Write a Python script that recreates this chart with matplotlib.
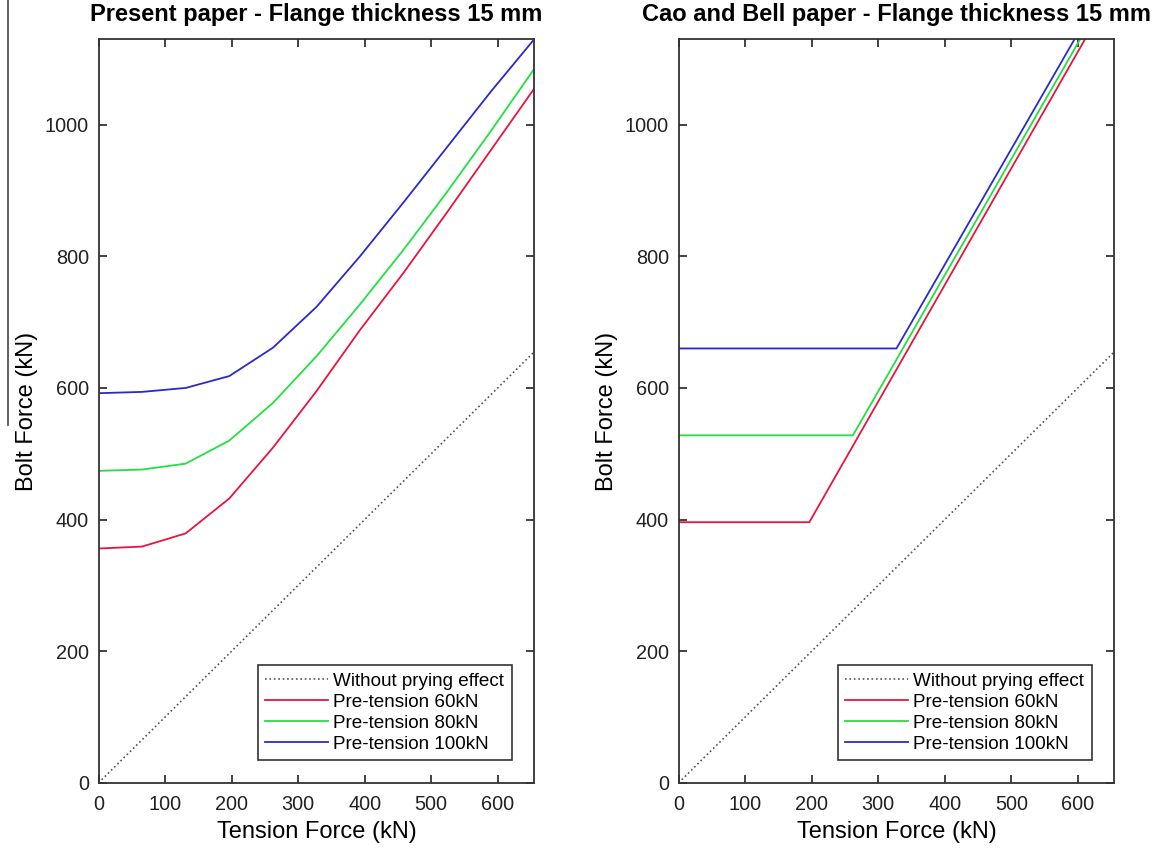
import matplotlib
matplotlib.use('Agg')
import matplotlib.pyplot as plt
from matplotlib.lines import Line2D

plt.rcParams['font.family'] = ['Liberation Sans', 'DejaVu Sans']

# Fuerza de tension (kN), misma malla para todas las curvas
tension = [0, 65.5, 131, 196.5, 262, 327.5, 393, 458.5, 524, 589.5, 655]
sin_palanca = [0, 655]

# Articulo presente
presente_60 = [356, 359, 379, 432, 509, 595, 688, 775, 867, 961, 1055]
presente_80 = [474, 476, 485, 520, 577, 648, 727, 810, 898, 990, 1085]
presente_100 = [592, 594, 600, 618, 661, 723, 800, 882, 966, 1050, 1130]

# Cao y Bell
cao_60 = [396, 396, 396, 396, 512, 628, 744, 860, 976, 1092, 1208]
cao_80 = [528, 528, 528, 528, 528, 643, 759, 874, 990, 1105, 1221]
cao_100 = [660, 660, 660, 660, 660, 660, 775, 890, 1005, 1120, 1235]

etiquetas = ['Without prying effect', 'Pre-tension 60kN',
             'Pre-tension 80kN', 'Pre-tension 100kN']
colores = ['#e8143c', '#22e040', '#2a2acc']
titulos = ['Present paper - Flange thickness 15 mm',
           'Cao and Bell paper - Flange thickness 15 mm']

fig = plt.figure(figsize=(11.59, 8.5), dpi=100)
ax1 = fig.add_axes([0.085, 0.079, 0.376, 0.875])
ax2 = fig.add_axes([0.5855, 0.079, 0.376, 0.875])

'''Dibuja una grafica con sus curvas'''
def grafica(ax, curvas, titulo):
    ax.plot(sin_palanca, sin_palanca, linestyle=':', color='#555555',
            linewidth=1.2, label=etiquetas[0])
    for i in range(len(curvas)):
        ax.plot(tension, curvas[i], color=colores[i], linewidth=1.3,
                label=etiquetas[i+1])
    ax.set_xlim(0, 655)
    ax.set_ylim(0, 1130)
    ax.set_xticks([0, 100, 200, 300, 400, 500, 600])
    ax.set_yticks([0, 200, 400, 600, 800, 1000])
    ax.tick_params(direction='in', top=True, right=True, labelsize=14.3,
                   length=6, width=1.2, colors='#222222', pad=7)
    ax.tick_params(axis='x', pad=9)
    for s in ax.spines.values():
        s.set_linewidth(1.3)
        s.set_color('#333333')
    ax.set_title(titulo, fontsize=17, fontweight='bold', pad=13)
    ax.set_xlabel('Tension Force (kN)', fontsize=17, labelpad=5)
    ax.set_ylabel('Bolt Force (kN)', fontsize=17, labelpad=5)
    leg = ax.legend(loc='lower right', fontsize=13.6, fancybox=False,
                    framealpha=1, edgecolor='#333333', handlelength=3.3,
                    borderaxespad=1.2, labelspacing=0.2, handletextpad=0.3,
                    borderpad=0.4)
    leg.get_frame().set_linewidth(1.2)

grafica(ax1, [presente_60, presente_80, presente_100], titulos[0])
grafica(ax2, [cao_60, cao_80, cao_100], titulos[1])

# linea vertical del recorte original
fig.add_artist(Line2D([0.007, 0.007], [1.0, 0.5], color='#444444',
                      linewidth=1.2))

plt.savefig('out.png', dpi=100)
